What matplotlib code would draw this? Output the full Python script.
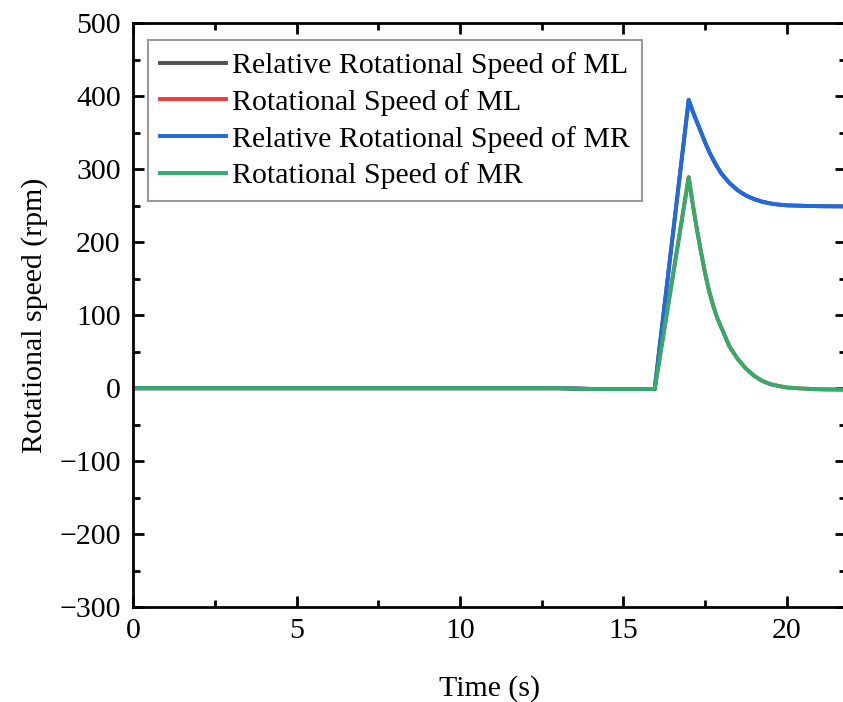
import matplotlib.pyplot as plt
import numpy as np

plt.rcParams['font.family'] = ['Liberation Serif', 'DejaVu Serif']

# time (s) and speeds (rpm)
t = [0, 5, 10, 13, 14, 15, 15.96, 17, 17.125, 17.25, 17.375, 17.5, 17.625, 17.75,
     17.875, 18, 18.25, 18.5, 18.75, 19, 19.25, 19.5, 19.75, 20, 20.5, 21, 21.8]
rel_mr = [0, 0, 0, 0, -1, -1, -1, 395, 379, 365, 351, 337, 324, 313,
          303, 294, 281, 271, 264, 259, 255.5, 253, 251.5, 250.5, 249.8, 249.3, 249]
spd_mr = [0, 0, 0, 0, -1, -1, -1, 289, 252, 218, 187, 158, 133, 113,
          96, 83, 57, 40, 27, 17, 10, 5.5, 3, 1, -0.5, -1.5, -2]
rel_ml = rel_mr
spd_ml = spd_mr

labels = ['Relative Rotational Speed of ML', 'Rotational Speed of ML',
          'Relative Rotational Speed of MR', 'Rotational Speed of MR']
colors = ['#505050', '#ef3b3b', '#1f6ae0', '#33ab6a']

fig = plt.figure(figsize=(8.43, 7.02), dpi=100)
ax = fig.add_axes([0.158, 0.135, 0.845, 0.832])

for y, lab, c in zip([rel_ml, spd_ml, rel_mr, spd_mr], labels, colors):
    ax.plot(t, y, '-', color=c, lw=2.8, label=lab)

ax.set_xlim(0, 21.8)
ax.set_ylim(-300, 500)
ax.set_xticks([0, 5, 10, 15, 20])
ax.set_xticks(np.arange(0, 22, 2.5), minor=True)
ax.set_yticks(np.arange(-300, 501, 100))
ax.set_yticks(np.arange(-300, 501, 50), minor=True)
ax.tick_params(which='both', direction='in', top=True, right=True, width=2,
               labelsize=21.5)
ax.tick_params(axis='x', pad=8)
ax.tick_params(axis='y', pad=9)
ax.tick_params(which='major', length=8)
ax.tick_params(which='minor', length=5)
for s in ax.spines.values():
    s.set_linewidth(2)

ax.set_xlabel('Time (s)', fontsize=21.5, labelpad=22)
ax.set_ylabel('Rotational speed (rpm)', fontsize=21.5, labelpad=8)

leg = ax.legend(loc='upper left', bbox_to_anchor=(0.021, 0.971), fontsize=21.5,
                frameon=True, fancybox=False, edgecolor='#808080',
                handlelength=2.2, handletextpad=0.2, labelspacing=0.33,
                borderpad=0.4, borderaxespad=0)
leg.get_frame().set_linewidth(1.5)

fig.savefig('out.png', dpi=100)
